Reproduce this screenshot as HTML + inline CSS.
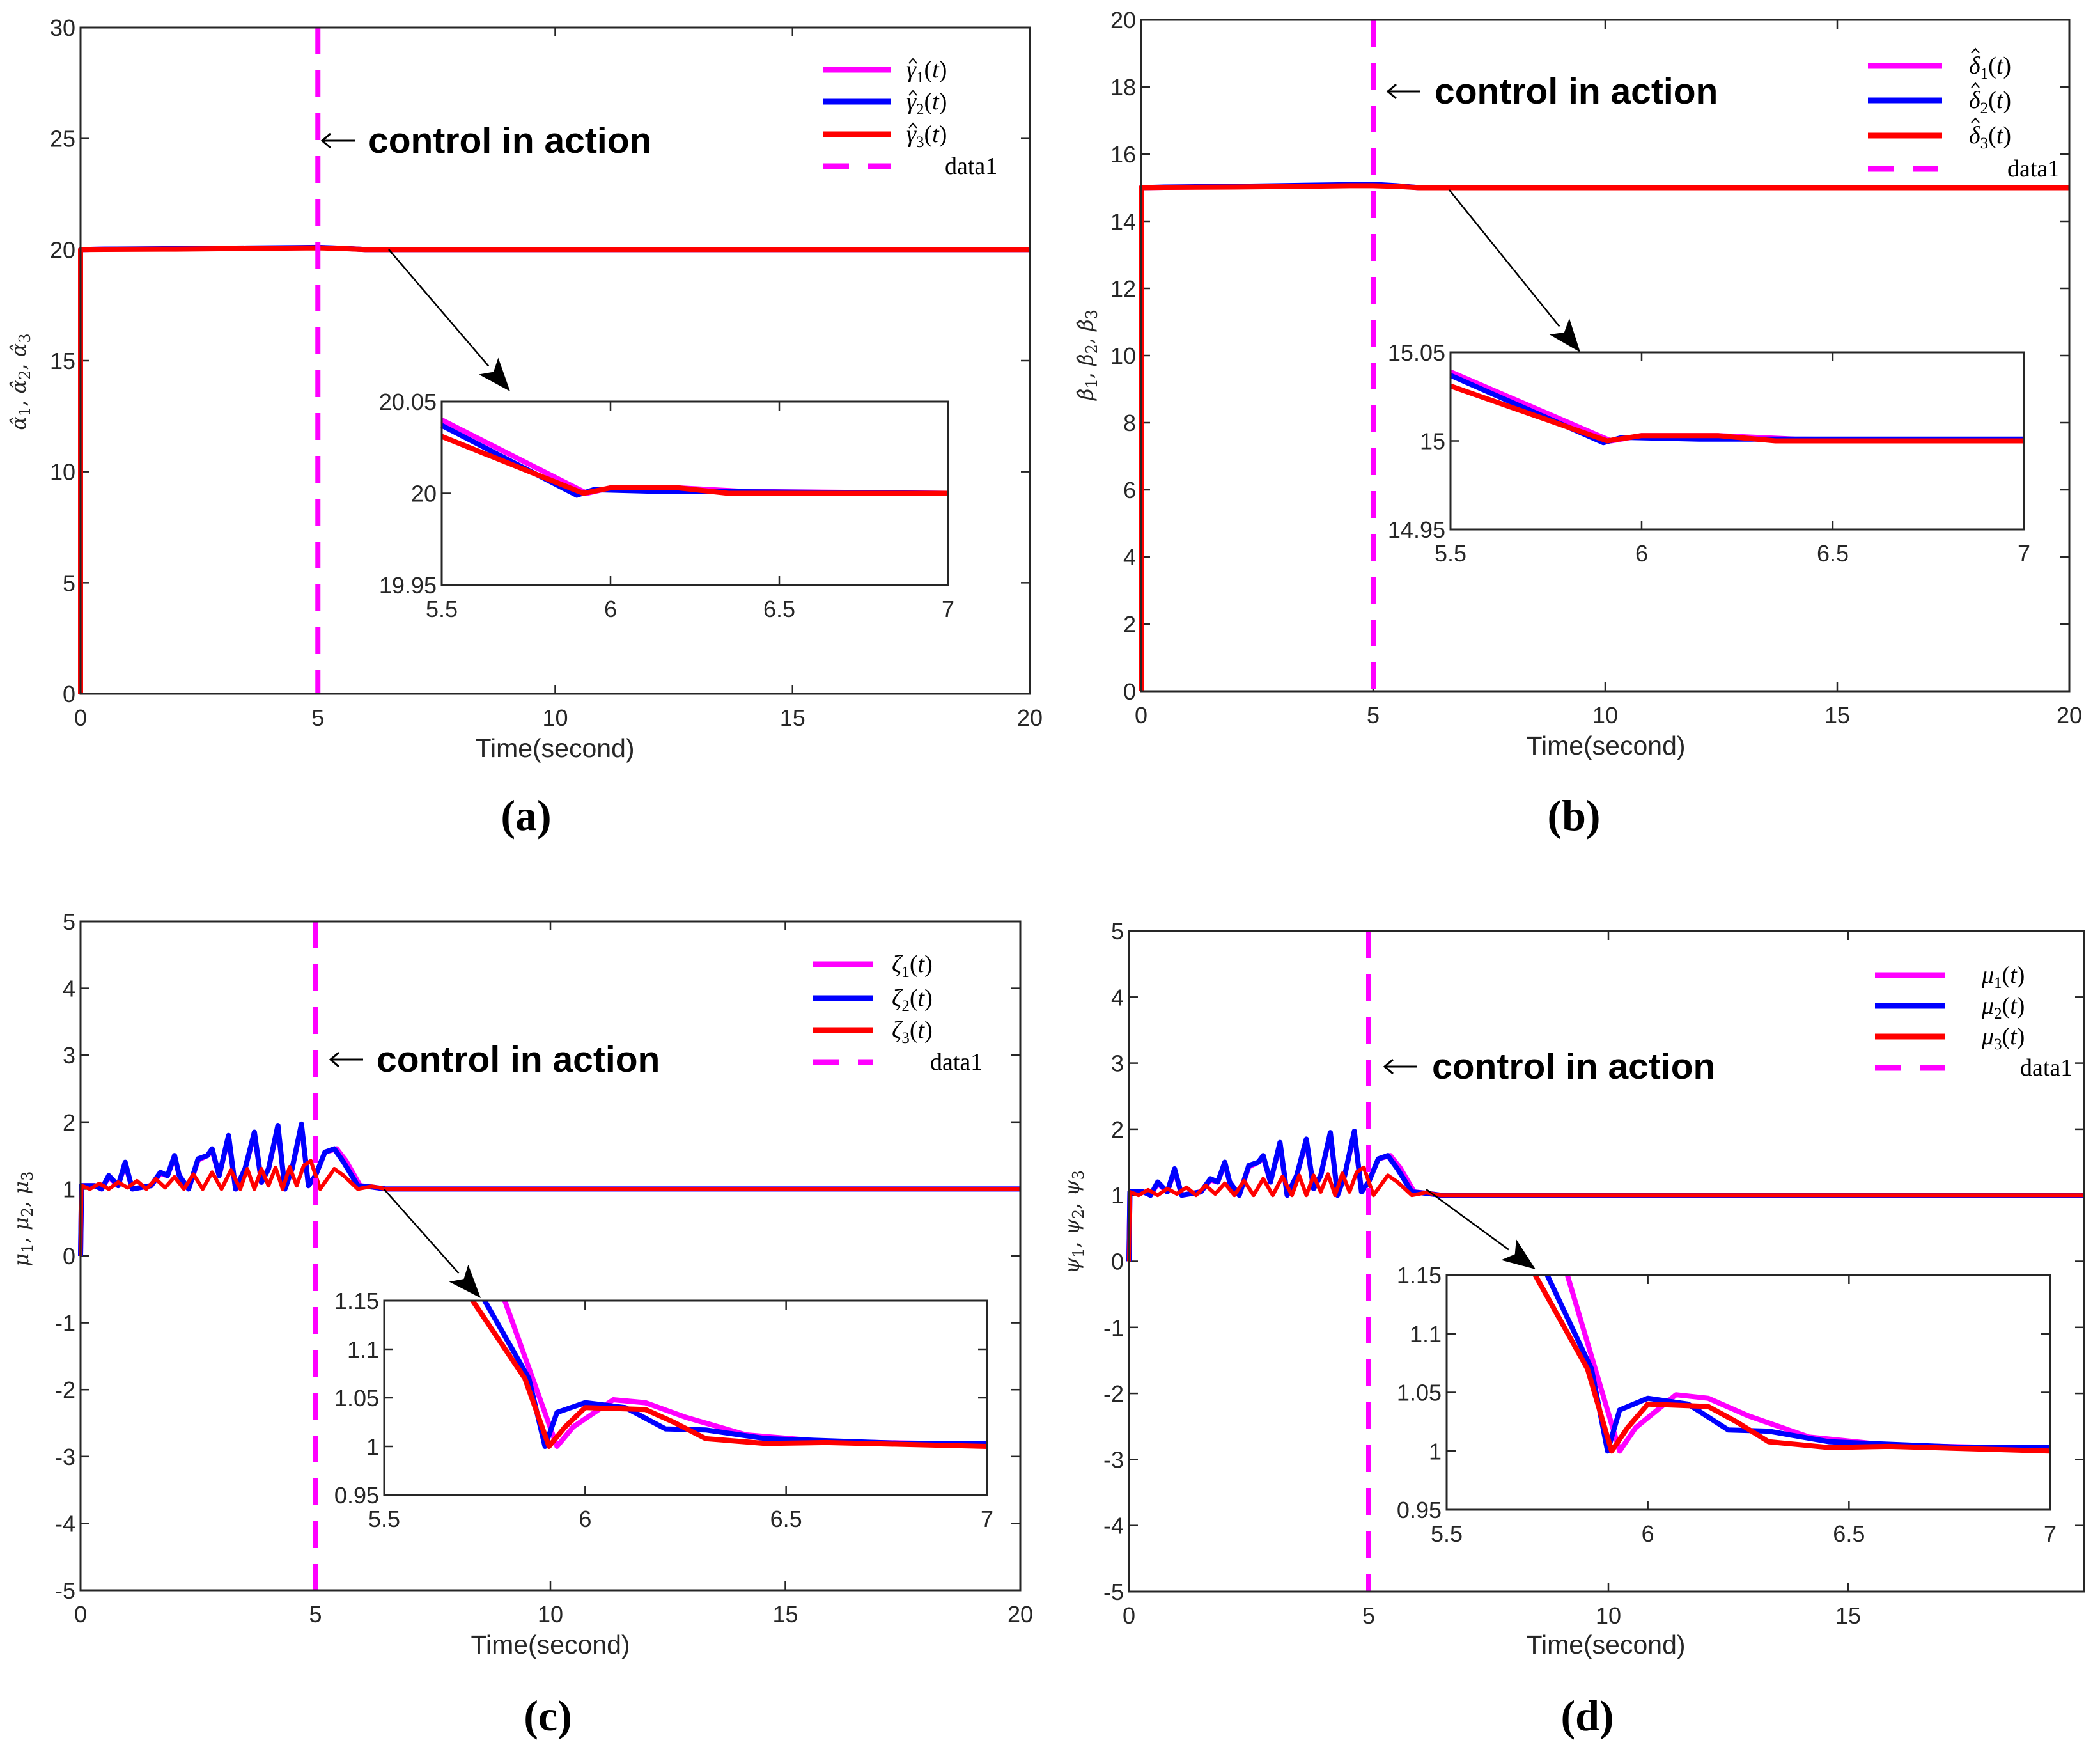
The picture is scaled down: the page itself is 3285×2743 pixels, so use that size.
<!DOCTYPE html>
<html><head><meta charset="utf-8"><style>
html,body{margin:0;padding:0;background:#fff;}
svg{display:block;}
.tk{font-family:"Liberation Sans",sans-serif;font-size:36px;fill:#262626;}
.xl{font-family:"Liberation Sans",sans-serif;font-size:41px;fill:#262626;}
.ca{font-family:"Liberation Sans",sans-serif;font-size:57px;font-weight:bold;fill:#000;}
.lg{font-family:"Liberation Serif",serif;font-size:38px;fill:#000;}
.cap{font-family:"Liberation Serif",serif;font-size:68px;font-weight:bold;fill:#000;}
.yl{font-family:"DejaVu Serif",serif;font-style:italic;font-size:32px;fill:#262626;}
</style></head><body>
<svg id="fig" xmlns="http://www.w3.org/2000/svg" width="3285" height="2743" viewBox="0 0 3285 2743"></svg>
<script>
// ---- data: panel (a) ----
const aT=[0,0,0.5,2,3.5,4.5,5,5.5,6,20];
const aV1=[0,20,20.02,20.03,20.06,20.08,20.09,20.06,20,20];
const aV2=[0,20,20.02,20.04,20.07,20.09,20.1,20.06,20,20];
const aV3=[0,20,20.01,20.02,20.05,20.07,20.08,20.05,20,20];
const aIT1=[5.5,5.93,6.0,6.2,6.4,7];
const aIV1=[20.04,20.0,20.003,20.003,20.001,20.0];
const aIT2=[5.5,5.9,5.95,6.15,6.3,7];
const aIV2=[20.037,19.999,20.002,20.001,20.001,20.0];
const aIT3=[5.5,5.92,6.0,6.2,6.35,7];
const aIV3=[20.031,20.0,20.003,20.003,20.0,20.0];
// ---- data: panel (b) ----
const bT=[0,0,0.5,2,3.5,4.5,5,5.5,6,20];
const bV1=[0,15,15.01,15.03,15.06,15.07,15.08,15.05,15,15];
const bV2=[0,15,15.02,15.04,15.07,15.09,15.1,15.06,15,15];
const bV3=[0,15,15.01,15.02,15.04,15.06,15.06,15.04,15,15];
const bIT1=[5.5,5.92,6.0,6.2,6.4,7];
const bIV1=[15.039,15.0,15.003,15.003,15.001,15.0];
const bIT2=[5.5,5.9,5.95,6.15,6.3,7];
const bIV2=[15.037,14.999,15.002,15.001,15.001,15.001];
const bIT3=[5.5,5.91,6.0,6.2,6.35,7];
const bIV3=[15.031,15.0,15.003,15.003,15.0,15.0];
// ---- data: panels (c),(d) main (same dynamics) ----
const cT2=[0,0.02,0.3,0.45,0.6,0.8,0.95,1.1,1.5,1.7,1.85,2.0,2.1,2.3,2.5,2.7,2.8,2.95,3.15,3.3,3.5,3.7,3.85,4.0,4.2,4.35,4.5,4.7,4.85,5.0,5.2,5.4,5.6,5.9,6.2,6.5,20];
const cV2=[0,1.05,1.05,1.0,1.2,1.05,1.4,1.0,1.05,1.25,1.2,1.5,1.2,1.0,1.45,1.5,1.6,1.2,1.8,1.0,1.3,1.85,1.1,1.3,1.95,1.0,1.3,1.97,1.05,1.2,1.55,1.6,1.4,1.05,1.03,1.0,1.0];
const cT1=[0,0.02,0.3,0.45,0.6,0.8,0.95,1.1,1.5,1.7,1.85,2.0,2.1,2.3,2.5,2.7,2.8,2.95,3.15,3.3,3.5,3.7,3.85,4.0,4.2,4.35,4.5,4.7,4.85,5.0,5.2,5.45,5.65,5.95,6.2,6.5,20];
const cV1=[0,1.05,1.05,1.0,1.18,1.05,1.38,1.0,1.05,1.23,1.2,1.48,1.2,1.0,1.43,1.5,1.58,1.2,1.78,1.0,1.3,1.83,1.1,1.3,1.93,1.0,1.3,1.95,1.05,1.2,1.55,1.6,1.42,1.05,1.03,1.0,1.0];
const cT3=[0,0.02,0.2,0.4,0.6,0.8,1.0,1.2,1.4,1.6,1.8,2.0,2.2,2.4,2.6,2.8,3.0,3.2,3.4,3.55,3.7,3.85,4.0,4.15,4.3,4.45,4.6,4.75,4.9,5.1,5.4,5.6,5.9,6.2,6.5,20];
const cV3=[0,1.05,1.0,1.08,1.0,1.1,1.02,1.12,1.0,1.15,1.02,1.18,1.0,1.22,1.0,1.25,1.0,1.28,1.0,1.3,1.0,1.3,1.05,1.32,1.0,1.33,1.05,1.35,1.42,1.0,1.3,1.2,1.0,1.04,1.0,1.0];
// ---- data: insets (c),(d) ----
const cIT1=[5.5,5.8,5.93,5.97,6.07,6.15,6.25,6.4,6.6,7];
const cIV1=[1.6,1.15,1.0,1.02,1.048,1.045,1.03,1.012,1.005,1.002];
const cIT2=[5.5,5.75,5.86,5.9,5.93,6.0,6.1,6.2,6.3,6.45,6.8,7];
const cIV2=[1.6,1.15,1.07,1.0,1.035,1.045,1.04,1.018,1.017,1.008,1.003,1.003];
const cIT3=[5.5,5.72,5.85,5.91,5.95,6.0,6.15,6.22,6.3,6.45,6.6,7];
const cIV3=[1.6,1.15,1.07,1.0,1.02,1.04,1.038,1.025,1.008,1.003,1.004,1.0];
// ---- ticks ----
const aYTicks=[0,5,10,15,20,25,30];
const bYTicks=[0,2,4,6,8,10,12,14,16,18,20];
const cYTicks=[-5,-4,-3,-2,-1,0,1,2,3,4,5];
const xTicks20=[0,5,10,15,20];
const xTicks15=[0,5,10,15];
const insXTicks=[5.5,6,6.5,7];
const aInsY=[19.95,20,20.05];
const bInsY=[14.95,15,15.05];
const cInsY=[0.95,1,1.05,1.1,1.15];

const NS="http://www.w3.org/2000/svg";
const svg=document.getElementById('fig');
function mk(tag,attrs,parent){const e=document.createElementNS(NS,tag);for(const k in attrs)e.setAttribute(k,attrs[k]);(parent||svg).appendChild(e);return e;}
function fmt(v){return String(v);}
let clipN=0;
function axes(b,x0,x1,y0,y1,xt,yt,tickFs,name){
  const g=mk('g',{});
  
  
  const sx=v=>b.l+(v-x0)/(x1-x0)*(b.r-b.l);
  const sy=v=>b.b-(v-y0)/(y1-y0)*(b.b-b.t);
  const bg=mk('rect',{x:b.l,y:b.t,width:b.r-b.l,height:b.b-b.t,fill:'#fff'},g);
  
  
  xt.forEach(v=>{
    const x=sx(v);
    mk('line',{x1:x,y1:b.b,x2:x,y2:b.b-14,stroke:'#262626','stroke-width':2.5},g);
    mk('line',{x1:x,y1:b.t,x2:x,y2:b.t+14,stroke:'#262626','stroke-width':2.5},g);
    const t=mk('text',{x:x,y:b.b+50,'text-anchor':'middle',class:'tk','font-size':tickFs},g);
    t.textContent=fmt(v);
    
    
  });
  yt.forEach(v=>{
    const y=sy(v);
    mk('line',{x1:b.l,y1:y,x2:b.l+14,y2:y,stroke:'#262626','stroke-width':2.5},g);
    mk('line',{x1:b.r,y1:y,x2:b.r-14,y2:y,stroke:'#262626','stroke-width':2.5},g);
    const t=mk('text',{x:b.l-8,y:y+13,'text-anchor':'end',class:'tk','font-size':tickFs},g);
    t.textContent=fmt(v);
    
    
  });
  const id='clip'+(clipN++);
  const cp=mk('clipPath',{id:id},g);
  mk('rect',{x:b.l-6,y:b.t,width:b.r-b.l+6,height:b.b-b.t},cp);
  return {g,sx,sy,b,id};
}
function series(ax,T,V,color,name,w){
  let d='';
  for(let i=0;i<T.length;i++){d+=(i?'L':'M')+ax.sx(T[i]).toFixed(1)+','+ax.sy(V[i]).toFixed(1);}
  const p=mk('path',{d:d,fill:'none',stroke:color,'stroke-width':w||8,'stroke-linejoin':'round','clip-path':'url(#'+ax.id+')'},ax.g);
  
  
}
function frame(ax){
  const b=ax.b;
  const f=mk('rect',{x:b.l,y:b.t,width:b.r-b.l,height:b.b-b.t,fill:'none',stroke:'#262626','stroke-width':3},ax.g);
  
  
}
function vline(ax,xv){
  const x=ax.sx(xv);
  const l=mk('line',{x1:x,y1:ax.b.t,x2:x,y2:ax.b.b,stroke:'#ff00ff','stroke-width':8,'stroke-dasharray':'42,25'},ax.g);
  
  
}
function legend(x1,x2,lx,rows,labels,hatDy){
  const cols=['#ff00ff','#0000ff','#ff0000','#ff00ff'];
  const g=mk('g',{});
  
  
  rows.forEach((y,i)=>{
    const l=mk('line',{x1:x1,y1:y,x2:x2,y2:y,stroke:cols[i],'stroke-width':9},g);
    if(i===3)l.setAttribute('stroke-dasharray','40,30');
    
    
    const t=mk('text',{x:i<3?lx:lx+60,y:y+12,class:'lg'},g);
    
    
    if(i<3){
      const s1=mk('tspan',{'font-style':'italic'},t);s1.textContent=labels;
      const s2=mk('tspan',{'font-size':25,dy:8},t);s2.textContent=String(i+1);
      const s3=mk('tspan',{dy:-8},t);s3.textContent='(';
      const s4=mk('tspan',{'font-style':'italic'},t);s4.textContent='t';
      const s5=mk('tspan',{},t);s5.textContent=')';
      if(hatDy!==null){
        const hy=y+hatDy;
        const h=mk('polyline',{points:`${lx+4},${hy} ${lx+10},${hy-7} ${lx+16},${hy}`,fill:'none',stroke:'#000','stroke-width':2},g);
        
        
      }
    } else t.textContent='data1';
  });
}
function txt(x,y,s,cls,name,extra){
  const t=mk('text',Object.assign({x:x,y:y,class:cls},extra||{}));
  t.textContent=s;
  
  
  return t;
}
function arrow(x1,y1,x2,y2){
  const g=mk('g',{});
  
  
  const ang=Math.atan2(y2-y1,x2-x1);
  const L=52,W=20;
  const bx=x2-L*Math.cos(ang),by=y2-L*Math.sin(ang);
  mk('line',{x1:x1,y1:y1,x2:bx,y2:by,stroke:'#000','stroke-width':2.5},g);
  const px=-Math.sin(ang),py=Math.cos(ang);
  mk('polygon',{points:`${x2},${y2} ${bx+px*W},${by+py*W} ${bx+12*Math.cos(ang)},${by+12*Math.sin(ang)} ${bx-px*W},${by-py*W}`,fill:'#000'},g);
}
function leftArrow(x,y){
  const g=mk('g',{});
  
  
  mk('line',{x1:x,y1:y,x2:x+52,y2:y,stroke:'#000','stroke-width':3},g);
  mk('polyline',{points:`${x+14},${y-11} ${x+1},${y} ${x+14},${y+11}`,fill:'none',stroke:'#000','stroke-width':3},g);
}
function ylabel(x,y,sym,hat){
  const t=mk('text',{x:0,y:0,class:'yl','text-anchor':'middle',transform:`translate(${x},${y}) rotate(-90)`});
  
  
  for(let i=1;i<=3;i++){
    const a=mk('tspan',{},t);a.textContent=sym+(hat?'\u0302':'');
    const b=mk('tspan',{'font-size':24,dy:7,'font-style':'normal'},t);b.textContent=String(i);
    const c=mk('tspan',{dy:-7,'font-style':'normal'},t);c.textContent=i<3?', ':'';
  }
}
const M=['#ff00ff','#0000ff','#ff0000'];

// ---------- Panel (a) ----------
{
 const ax=axes({l:126,r:1611,t:43,b:1085},0,20,0,30,xTicks20,aYTicks,36,'panel-a-axes');
 series(ax,aT,aV1,M[0],'series-gamma1');series(ax,aT,aV2,M[1],'series-gamma2');series(ax,aT,aV3,M[2],'series-gamma3');
 vline(ax,5);frame(ax);
 legend(1288,1393,1418,[109,159,210,260],'\u03B3',-10);
 leftArrow(503,220);
 txt(576,239,'control in action','ca','annotation-text');
 arrow(608,390,798,612);
 const ins=axes({l:691,r:1483,t:628,b:915},5.5,7,19.95,20.05,insXTicks,aInsY,36,'panel-a-inset');
 series(ins,aIT1,aIV1,M[0],'inset-gamma1');series(ins,aIT2,aIV2,M[1],'inset-gamma2');series(ins,aIT3,aIV3,M[2],'inset-gamma3');frame(ins);
 ylabel(40,597,'\u03B1',true);
 txt(868,1184,'Time(second)','xl','x-axis-title',{'text-anchor':'middle'});
 txt(823,1298,'(a)','cap','caption-a',{'text-anchor':'middle'});
}
// ---------- Panel (b) ----------
{
 const ax=axes({l:1785,r:3237,t:31,b:1081},0,20,0,20,xTicks20,bYTicks,36,'panel-b-axes');
 series(ax,bT,bV1,M[0],'series-delta1');series(ax,bT,bV2,M[1],'series-delta2');series(ax,bT,bV3,M[2],'series-delta3');
 vline(ax,5);frame(ax);
 legend(2922,3038,3080,[103,157,212,264],'\u03B4',-20);
 leftArrow(2170,143);
 txt(2244,162,'control in action','ca','annotation-text');
 arrow(2267,297,2472,551);
 const ins=axes({l:2269,r:3166,t:551,b:828},5.5,7,14.95,15.05,insXTicks,bInsY,36,'panel-b-inset');
 series(ins,bIT1,bIV1,M[0],'inset-delta1');series(ins,bIT2,bIV2,M[1],'inset-delta2');series(ins,bIT3,bIV3,M[2],'inset-delta3');frame(ins);
 ylabel(1709,555,'\u03B2',true);
 txt(2512,1180,'Time(second)','xl','x-axis-title',{'text-anchor':'middle'});
 txt(2462,1298,'(b)','cap','caption-b',{'text-anchor':'middle'});
}
// ---------- Panel (c) ----------
{
 const ax=axes({l:126,r:1596,t:1441,b:2487},0,20,-5,5,xTicks20,cYTicks,36,'panel-c-axes');
 series(ax,cT1,cV1,M[0],'series-zeta1');series(ax,cT2,cV2,M[1],'series-zeta2');series(ax,cT3,cV3,M[2],'series-zeta3',6);
 vline(ax,5);frame(ax);
 legend(1272,1366,1395,[1508,1561,1611,1661],'\u03B6',null);
 leftArrow(516,1657);
 txt(589,1676,'control in action','ca','annotation-text');
 arrow(601,1860,752,2030);
 const ins=axes({l:601,r:1544,t:2034,b:2338},5.5,7,0.95,1.15,insXTicks,cInsY,36,'panel-c-inset');
 series(ins,cIT1,cIV1,M[0],'inset-zeta1');series(ins,cIT2,cIV2,M[1],'inset-zeta2');series(ins,cIT3,cIV3,M[2],'inset-zeta3');frame(ins);
 ylabel(44,1906,'\u03BC',false);
 txt(861,2586,'Time(second)','xl','x-axis-title',{'text-anchor':'middle'});
 txt(857,2706,'(c)','cap','caption-c',{'text-anchor':'middle'});
}
// ---------- Panel (d) ----------
{
 const ax=axes({l:1766,r:3260,t:1456,b:2489},0,19.92,-5,5,xTicks15,cYTicks,36,'panel-d-axes');
 series(ax,cT1,cV1,M[0],'series-mu1');series(ax,cT2,cV2,M[1],'series-mu2');series(ax,cT3,cV3,M[2],'series-mu3',6);
 vline(ax,5);frame(ax);
 legend(2933,3042,3100,[1525,1573,1621,1670],'\u03BC',null);
 leftArrow(2165,1668);
 txt(2240,1687,'control in action','ca','annotation-text');
 arrow(2231,1860,2402,1985);
 const ins=axes({l:2263,r:3207,t:1994,b:2361},5.5,7,0.95,1.15,insXTicks,cInsY,36,'panel-d-inset');
 series(ins,cIT1,cIV1,M[0],'inset-mu1');series(ins,cIT2,cIV2,M[1],'inset-mu2');series(ins,cIT3,cIV3,M[2],'inset-mu3');frame(ins);
 ylabel(1688,1911,'\u03C8',false);
 txt(2512,2586,'Time(second)','xl','x-axis-title',{'text-anchor':'middle'});
 txt(2483,2706,'(d)','cap','caption-d',{'text-anchor':'middle'});
}
</script>
</body></html>
